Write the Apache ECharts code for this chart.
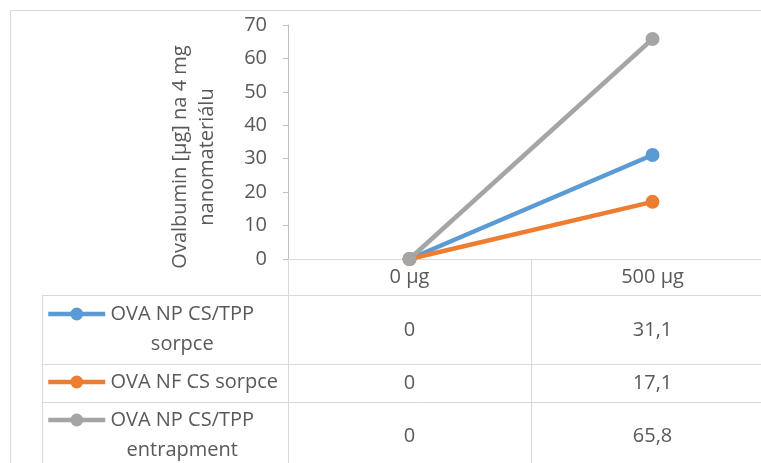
<!DOCTYPE html>
<html><head><meta charset="utf-8">
<script src="https://cdn.jsdelivr.net/npm/echarts@6/dist/echarts.min.js"></script>
<style>html,body{margin:0;padding:0;overflow:hidden;background:#fff}#c{width:800px;height:480px}</style>
</head><body><div id="c"></div>
<script>
const categories = ['0 µg', '500 µg'];
const seriesNames = ['OVA NP CS/TPP sorpce', 'OVA NF CS sorpce', 'OVA NP CS/TPP entrapment'];
const legendLines = [['OVA NP CS/TPP', 'sorpce'], ['OVA NF CS sorpce'], ['OVA NP CS/TPP', 'entrapment']];
const valuesNpSorpce = [0, 31.1];
const valuesNfSorpce = [0, 17.1];
const valuesNpEntrapment = [0, 65.8];
const yMin = 0, yMax = 70, yStep = 10;
const yAxisTitle = 'Ovalbumin [µg] na 4 mg\nnanomateriálu';
const colors = ['#5B9BD5', '#ED7D31', '#A5A5A5'];

const allValues = [valuesNpSorpce, valuesNfSorpce, valuesNpEntrapment];
const FONT = "'Open Sans', sans-serif";
const TXT = '#595959';
const FS = 20;
const fmt = v => String(v).replace('.', ',');

const ctx = document.createElement('canvas').getContext('2d');
ctx.font = FS + 'px ' + FONT;

const chart = echarts.init(document.getElementById('c'));

const legendTops = [269, 367, 375];
const legends = seriesNames.map((name, i) => {
  const lines = legendLines[i];
  const w = Math.ceil(ctx.measureText(lines[0]).width);
  return {
    data: [name],
    orient: 'vertical',
    left: 46,
    top: legendTops[i],
    padding: 0,
    itemWidth: 57,
    itemHeight: 16,
    lineStyle: { width: 4.5, color: colors[i] },
    itemStyle: { color: colors[i] },
    formatter: () => lines.map(l => '{a|' + l + '}').join('\n'),
    textStyle: {
      color: TXT, fontSize: FS, fontFamily: FONT, lineHeight: 30,
      padding: lines.length > 1 ? [30, 0, 0, 0] : 0,
      rich: { a: { width: w, align: 'center', color: TXT, fontSize: FS, fontFamily: FONT, lineHeight: 30 } }
    }
  };
});

const richRow = lh => ({ lineHeight: lh, fontSize: FS, fontFamily: FONT, color: TXT });

const option = {
  animation: false,
  backgroundColor: '#fff',
  legend: legends,
  grid: { left: 288, top: 25, width: 486, height: 234, containLabel: false },
  xAxis: {
    type: 'category',
    data: categories,
    boundaryGap: true,
    axisLine: { lineStyle: { color: '#D9D9D9', width: 1 } },
    axisTick: { show: true, length: 230, lineStyle: { color: '#D9D9D9', width: 1 } },
    axisLabel: {
      interval: 0, margin: 0, verticalAlign: 'top',
      formatter: (val, idx) => '{h|' + val + '}\n' + allValues.map((arr, k) => '{r' + (k + 1) + '|' + fmt(arr[idx]) + '}').join('\n'),
      rich: { h: richRow(37), r1: richRow(68), r2: richRow(38), r3: richRow(68) }
    },
    splitLine: { show: false }
  },
  yAxis: {
    type: 'value', min: yMin, max: yMax, interval: yStep,
    name: yAxisTitle, nameLocation: 'middle', nameRotate: 90, nameGap: 67,
    nameTextStyle: { color: TXT, fontSize: FS, fontFamily: FONT, lineHeight: 27, padding: [0, 30, 0, 0] },
    axisLine: { show: true, lineStyle: { color: '#BFBFBF', width: 1 } },
    axisTick: { show: true, length: 5, lineStyle: { color: '#BFBFBF' } },
    axisLabel: { color: TXT, fontSize: FS, fontFamily: FONT, margin: 21 },
    splitLine: { show: false }
  },
  series: seriesNames.map((name, i) => ({
    name, type: 'line', data: allValues[i],
    symbol: 'circle', symbolSize: 14,
    lineStyle: { color: colors[i], width: 4.5 },
    itemStyle: { color: colors[i] },
    z: 2 + i
  })),
  graphic: [
    { type: 'rect', shape: { x: 10.5, y: 10.5, width: 900, height: 900 }, style: { fill: 'none', stroke: '#D9D9D9', lineWidth: 1 }, silent: true, z: -1 },
    { type: 'line', shape: { x1: 42, y1: 295.5, x2: 900, y2: 295.5 }, style: { stroke: '#D9D9D9', lineWidth: 1 }, silent: true },
    { type: 'line', shape: { x1: 42, y1: 364.5, x2: 900, y2: 364.5 }, style: { stroke: '#D9D9D9', lineWidth: 1 }, silent: true },
    { type: 'line', shape: { x1: 42, y1: 402.5, x2: 900, y2: 402.5 }, style: { stroke: '#D9D9D9', lineWidth: 1 }, silent: true },
    { type: 'line', shape: { x1: 42.5, y1: 295.5, x2: 42.5, y2: 900 }, style: { stroke: '#D9D9D9', lineWidth: 1 }, silent: true }
  ]
};
chart.setOption(option);
</script></body></html>
